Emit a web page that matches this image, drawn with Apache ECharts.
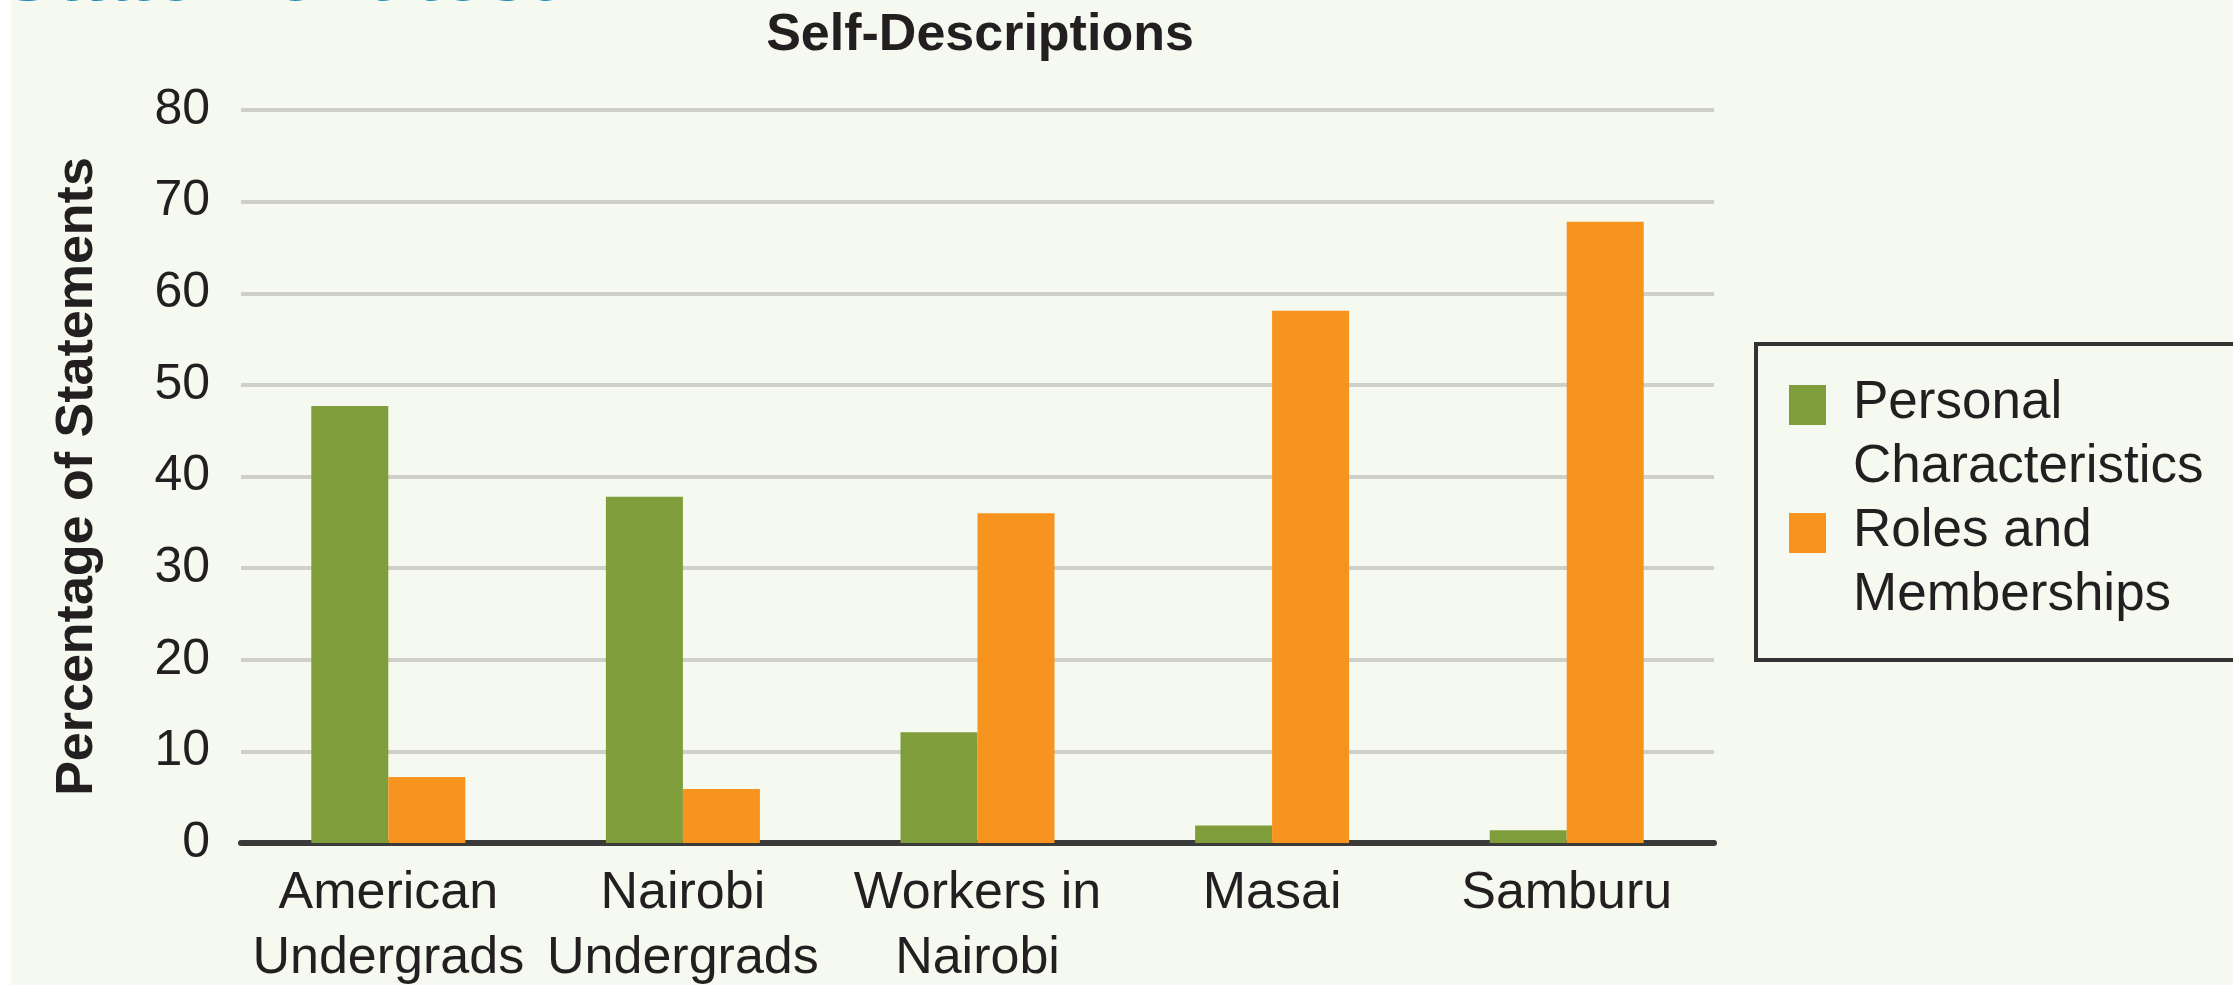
<!DOCTYPE html>
<html>
<head>
<meta charset="utf-8">
<script src="https://cdn.jsdelivr.net/npm/echarts@6/dist/echarts.min.js"></script>
<style>
  html, body { margin: 0; padding: 0; background: #ffffff; }
  #chart { width: 2233px; height: 985px; }
</style>
</head>
<body>
<div id="chart"></div>
<script>
const categories = ['American\nUndergrads', 'Nairobi\nUndergrads', 'Workers in\nNairobi', 'Masai', 'Samburu'];
const personalCharacteristics = [47.7, 37.8, 12.1, 1.9, 1.4];
const rolesAndMemberships = [7.2, 5.9, 36.0, 58.1, 67.8];
const seriesNames = ['Personal\nCharacteristics', 'Roles and\nMemberships'];
const yMin = 0, yMax = 80, yStep = 10;

const FONT = '"Liberation Sans", Arial, Helvetica, sans-serif';
const TEXT = '#231f20';

const chart = echarts.init(document.getElementById('chart'), null, { renderer: 'canvas' });
chart.setOption({
  backgroundColor: '#f6f9ef',
  animation: false,
  textStyle: { fontFamily: FONT },
  title: {
    text: 'Self-Descriptions',
    left: 980,
    top: 6,
    textAlign: 'center',
    padding: 0,
    textStyle: { fontFamily: FONT, fontSize: 52, fontWeight: 'bold', color: TEXT, lineHeight: 60 }
  },
  graphic: [
    { type: 'rect', left: 0, top: 0, shape: { width: 11, height: 985 }, style: { fill: '#ffffff' }, silent: true, z: 1 },
    { type: 'text', x: 553, y: -24, z: 2, silent: true,
      style: { text: 'Statement test', font: '86px "Liberation Sans", Arial, sans-serif', fill: '#1a8ab5', textAlign: 'right', textVerticalAlign: 'middle' } }
  ],
  legend: {
    orient: 'vertical',
    left: 1756,
    top: 344,
    padding: [27, 60, 33, 33],
    itemGap: 0,
    itemWidth: 59,
    itemHeight: 128,
    icon: 'path://M0,0L0.01,0.01M0,14L37,14L37,54L0,54ZM59,128L58.99,127.99',
    borderColor: '#333333',
    borderWidth: 4,
    backgroundColor: '#f6f9ef',
    data: seriesNames,
    textStyle: { fontFamily: FONT, fontSize: 53, lineHeight: 64, color: TEXT }
  },
  grid: { left: 241, right: 519, top: 110, bottom: 142, containLabel: false, outerBoundsMode: 'none' },
  xAxis: {
    type: 'category',
    data: categories,
    axisLine: { show: true, lineStyle: { color: '#3a3a3a', width: 6 } },
    axisTick: { show: false },
    axisLabel: { interval: 0, margin: 18, fontFamily: FONT, fontSize: 52, lineHeight: 65, color: TEXT }
  },
  yAxis: {
    type: 'value',
    min: yMin, max: yMax, interval: yStep,
    name: 'Percentage of Statements',
    nameLocation: 'middle',
    nameGap: 137,
    nameRotate: 90,
    nameTextStyle: { fontFamily: FONT, fontSize: 52, fontWeight: 'bold', color: TEXT },
    axisLine: { show: false },
    axisTick: { show: false },
    axisLabel: { margin: 31, fontFamily: FONT, fontSize: 50, color: TEXT },
    splitLine: { show: true, lineStyle: { color: '#cfd0c9', width: 4 } }
  },
  series: [
    { name: seriesNames[0], type: 'bar', data: personalCharacteristics, barWidth: 77, barGap: '0%', itemStyle: { color: '#809d3b' } },
    { name: seriesNames[1], type: 'bar', data: rolesAndMemberships, barWidth: 77, barGap: '0%', itemStyle: { color: '#f7941f' } }
  ]
});
</script>
</body>
</html>
